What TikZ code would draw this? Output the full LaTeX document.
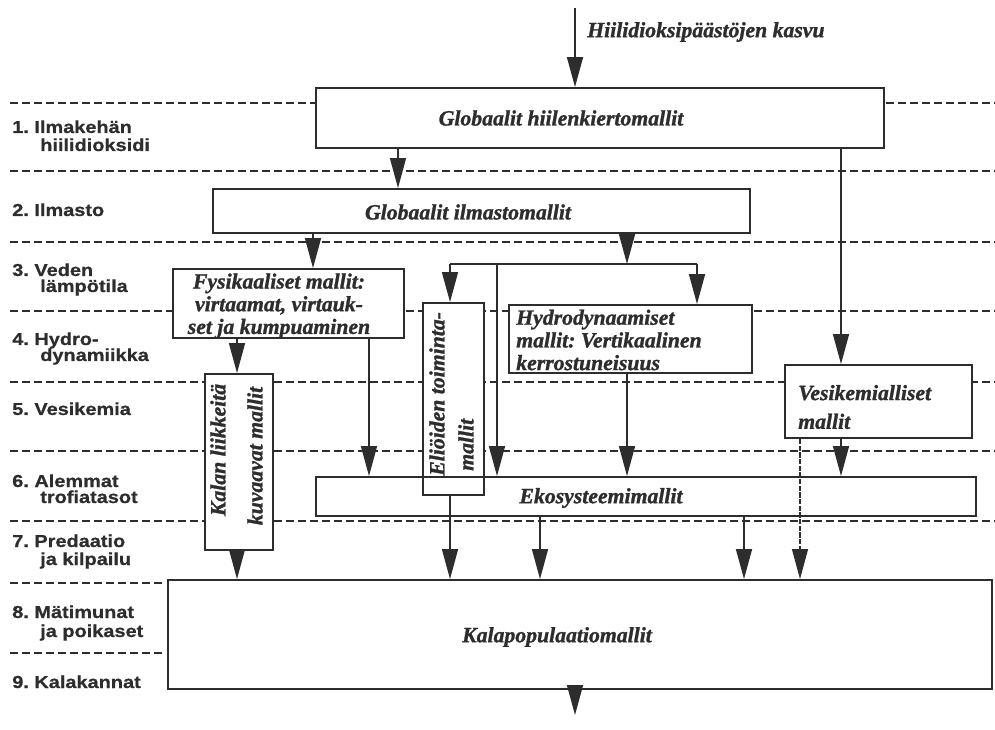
\documentclass[tikz,border=0pt]{standalone}
\usepackage{fontspec}
\setmainfont{Liberation Serif}
\newfontfamily\labfont[FakeStretch=1.15,FakeBold=0.6]{Liberation Sans}
\newfontfamily\boxfont[FakeBold=1.2]{Liberation Serif}
\usetikzlibrary{arrows.meta}
\definecolor{ink}{RGB}{45,45,45}
\frenchspacing
\begin{document}
\begin{tikzpicture}[x=0.75pt,y=-0.75pt,
  box/.style={draw=ink, line width=1.4pt, fill=white, inner sep=0pt, anchor=center},
  sz/.style 2 args={minimum width=#1*0.75pt, minimum height=#2*0.75pt},
  txt/.style={font=\boxfont\fontsize{16.3}{17}\selectfont\bfseries\itshape, text=ink, inner sep=0pt},
  lbl/.style={font=\labfont\fontsize{13}{15}\selectfont\bfseries, text=ink, anchor=base west, inner sep=0pt},
  arr/.style={draw=ink, line width=1.1pt, -{Triangle[width=12pt,length=22.5pt]}},
  conn/.style={draw=ink, line width=1.1pt},
  lev/.style={draw=ink, line width=1.1pt, dash pattern=on 6pt off 3pt}]
\useasboundingbox (0,0) rectangle (995,730);
\fill[white] (0,0) rectangle (995,730);

% level separators
\foreach \yy in {103,171,242,311,382,451,521} \draw[lev] (10,\yy) -- (995,\yy);
\foreach \yy in {583,653} \draw[lev] (10,\yy) -- (163,\yy);

% level labels
\node[lbl] (l1a) at (12,133) {1. Ilmakehän};
\node[lbl] (l1b) at (40,151) {hiilidioksidi};
\node[lbl] (l2) at (12,216) {2. Ilmasto};
\node[lbl] (l3a) at (12,276) {3. Veden};
\node[lbl] (l3b) at (40,292) {lämpötila};
\node[lbl] (l4a) at (12,345) {4. Hydro-};
\node[lbl] (l4b) at (40,361) {dynamiikka};
\node[lbl] (l5) at (12,415) {5. Vesikemia};
\node[lbl] (l6a) at (12,487) {6. Alemmat};
\node[lbl] (l6b) at (40,503) {trofiatasot};
\node[lbl] (l7a) at (12,547) {7. Predaatio};
\node[lbl] (l7b) at (40,565) {ja kilpailu};
\node[lbl] (l8a) at (12,618) {8. Mätimunat};
\node[lbl] (l8b) at (40,637) {ja poikaset};
\node[lbl] (l9) at (12,688) {9. Kalakannat};

% boxes
\node[box, sz={568}{60}] (glob) at (600,118) {};
\node[box, sz={537}{44}] (clim) at (481.5,211) {};
\node[box, sz={231}{69}] (fys) at (288.5,303.5) {};
\node[box, sz={243}{68}] (hydro) at (630.5,339) {};
\node[box, sz={187}{73}] (vesi) at (878.5,401.5) {};
\node[box, sz={68}{176}] (kalan) at (239,462) {};
\node[box, sz={61}{192}] (elio) at (453.5,399) {};
\node[box, sz={660}{39}, fill=none] (eko) at (646,496.5) {};
\node[box, sz={824}{109}] (kala) at (580,634.5) {};

% texts
\node[txt, anchor=west] (topt) at (587,32) {Hiilidioksipäästöjen kasvu};
\node[txt] (globt) at (561,118) {Globaalit hiilenkiertomallit};
\node[txt] (climt) at (468,212) {Globaalit ilmastomallit};
\node[txt, align=center] (fyst) at (279,306) {Fysikaaliset mallit:\\virtaamat, virtauk-\\set ja kumpuaminen};
\node[txt, align=left, anchor=west] (hydrot) at (516,340) {Hydrodynaamiset\\mallit: Vertikaalinen\\kerrostuneisuus};
\node[txt, align=left, anchor=west, font=\boxfont\fontsize{16.3}{21.5}\selectfont\bfseries\itshape] (vesit) at (798,407) {Vesikemialliset\\mallit};
\node[txt, rotate=90] (kalant1) at (218,450) {Kalan liikkeitä};
\node[txt, rotate=90] (kalant2) at (255,456) {kuvaavat mallit};
\node[txt, rotate=90, anchor=west] (eliot1) at (437,476) {Eliöiden toiminta-};
\node[txt, rotate=90, anchor=west] (eliot2) at (466,471) {mallit};
\node[txt] (ekot) at (601,498) {Ekosysteemimallit};
\node[txt] (kalat) at (557,637) {Kalapopulaatiomallit};

% connectors
\coordinate (src) at (575,8);
\coordinate (sink) at (575,715);
\coordinate (junc) at (627,264);
\coordinate (jl) at (450,264);
\coordinate (jr) at (697,264);

\draw[arr] (src) -- (glob.north -| src);
\draw[arr] (glob.south -| 398,0) -- (clim.north -| 398,0);
\draw[arr] (glob.south -| 841,0) -- (vesi.north -| 841,0);
\draw[arr] (clim.south -| 313,0) -- (fys.north -| 313,0);
\draw[arr] (clim.south -| junc) -- (junc);
\draw[conn] (jl) -- (jr);
\draw[arr] (jl) -- (elio.north -| jl);
\draw[arr] (jr) -- (hydro.north -| jr);
\draw[arr] (junc -| 497,0) -- (eko.north -| 497,0);
\draw[arr] (fys.south -| 237,0) -- (kalan.north -| 237,0);
\draw[arr] (fys.south -| 369,0) -- (eko.north -| 369,0);
\draw[arr] (hydro.south -| 627,0) -- (eko.north -| 627,0);
\draw[arr] (vesi.south -| 841,0) -- (eko.north -| 841,0);
\draw[arr, line width=0.8pt, dash pattern=on 4pt off 1pt] (vesi.south -| 800,0) -- (kala.north -| 800,0);
\draw[arr] (kalan.south -| 237,0) -- (kala.north -| 237,0);
\draw[arr] (elio.south -| 450,0) -- (kala.north -| 450,0);
\draw[arr] (eko.south -| 540,0) -- (kala.north -| 540,0);
\draw[arr] (eko.south -| 744,0) -- (kala.north -| 744,0);
\draw[arr] (kala.south -| sink) -- (sink);
\end{tikzpicture}
\end{document}
